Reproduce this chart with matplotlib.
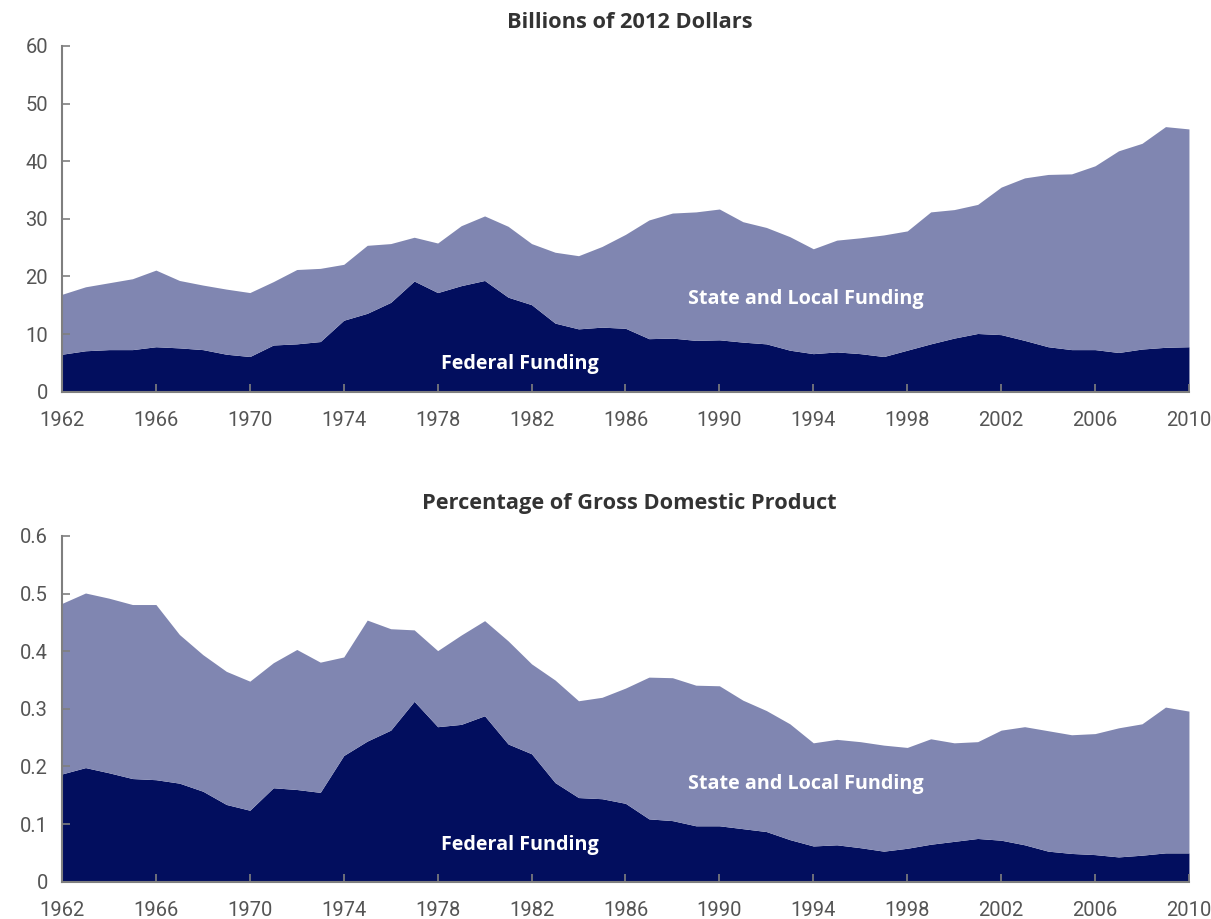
import matplotlib
matplotlib.use("Agg")
import matplotlib.pyplot as plt
import numpy as np

years = list(range(1962, 2011))

# Billions of 2012 dollars
total_billions = [16.9, 18.2, 18.9, 19.6, 21.1, 19.3, 18.5, 17.8, 17.2, 19.1,
                  21.2, 21.4, 22.1, 25.4, 25.7, 26.8, 25.8, 28.8, 30.5, 28.7,
                  25.7, 24.2, 23.6, 25.2, 27.3, 29.8, 31.0, 31.2, 31.7, 29.5,
                  28.5, 26.9, 24.8, 26.3, 26.7, 27.2, 27.9, 31.2, 31.6, 32.5,
                  35.5, 37.1, 37.7, 37.8, 39.2, 41.8, 43.1, 46.0, 45.6]
federal_billions = [6.5, 7.1, 7.3, 7.3, 7.8, 7.6, 7.3, 6.5, 6.1, 8.1,
                    8.3, 8.7, 12.4, 13.6, 15.5, 19.2, 17.2, 18.4, 19.3, 16.4,
                    15.1, 11.9, 10.9, 11.2, 11.0, 9.2, 9.3, 8.9, 9.0, 8.6,
                    8.3, 7.2, 6.6, 6.9, 6.6, 6.1, 7.2, 8.3, 9.3, 10.1,
                    9.9, 8.9, 7.8, 7.3, 7.3, 6.8, 7.4, 7.7, 7.8]

# Percentage of GDP
total_gdp = [0.483, 0.501, 0.492, 0.481, 0.481, 0.429, 0.394, 0.365, 0.348, 0.380,
             0.403, 0.381, 0.390, 0.454, 0.439, 0.437, 0.401, 0.428, 0.453, 0.418,
             0.378, 0.350, 0.314, 0.320, 0.336, 0.355, 0.354, 0.341, 0.340, 0.315,
             0.297, 0.274, 0.241, 0.247, 0.243, 0.237, 0.233, 0.248, 0.241, 0.243,
             0.263, 0.269, 0.262, 0.255, 0.257, 0.267, 0.274, 0.303, 0.296]
federal_gdp = [0.187, 0.198, 0.189, 0.179, 0.177, 0.171, 0.157, 0.134, 0.124, 0.163,
               0.160, 0.155, 0.219, 0.244, 0.263, 0.313, 0.269, 0.273, 0.288, 0.239,
               0.222, 0.172, 0.146, 0.144, 0.136, 0.109, 0.106, 0.097, 0.097, 0.092,
               0.087, 0.073, 0.062, 0.064, 0.059, 0.053, 0.058, 0.065, 0.070, 0.075,
               0.072, 0.064, 0.053, 0.049, 0.047, 0.043, 0.046, 0.050, 0.050]

xticks = list(range(1962, 2011, 4))
yticks_top = [0, 10, 20, 30, 40, 50, 60]
yticks_bot = [0, 0.1, 0.2, 0.3, 0.4, 0.5, 0.6]
ylabels_bot = ["0", "0.1", "0.2", "0.3", "0.4", "0.5", "0.6"]

DARK = "#020e5e"
LIGHT = "#8086b1"
GRAY = "#7f7f7f"
TXT = "#555555"
plt.rcParams['font.family'] = ["Roboto", "DejaVu Sans"]

fig = plt.figure(figsize=(12.11, 9.19), dpi=100)
ax1 = fig.add_axes([0.0512, 0.5738, 0.9306, 0.3762])
ax2 = fig.add_axes([0.0512, 0.0406, 0.9306, 0.3762])


def style(ax, yt, ylab, ymax):
    ax.set_xlim(1962, 2010)
    ax.set_ylim(0, ymax)
    ax.set_xticks(xticks)
    ax.set_yticks(yt)
    ax.set_yticklabels(ylab)
    for s in ["top", "right"]:
        ax.spines[s].set_visible(False)
    for s in ["left", "bottom"]:
        ax.spines[s].set_color(GRAY)
        ax.spines[s].set_linewidth(1.5)
    ax.tick_params(direction="in", length=6, width=1.2, color=GRAY,
                   labelsize=14.5, labelcolor=TXT)
    ax.tick_params(axis="x", pad=14)
    ax.tick_params(axis="y", pad=10)


def label(ax, x, y, s):
    ax.text(x, y, s, color="white", fontsize=14.2, fontweight="bold",
            family=["Open Sans", "DejaVu Sans"], ha="center", va="center")


ax1.fill_between(years, 0, federal_billions, color=DARK, lw=0)
ax1.fill_between(years, federal_billions, total_billions, color=LIGHT, lw=0)
style(ax1, yticks_top, [str(v) for v in yticks_top], 60)
label(ax1, 1993.7, 16.15, "State and Local Funding")
label(ax1, 1981.5, 4.8, "Federal Funding")
fig.text(0.52, 0.976, "Billions of 2012 Dollars", color="#333333",
         fontsize=15.7, fontweight="bold", family=["Open Sans", "DejaVu Sans"],
         ha="center", va="center")

ax2.fill_between(years, 0, federal_gdp, color=DARK, lw=0)
ax2.fill_between(years, federal_gdp, total_gdp, color=LIGHT, lw=0)
style(ax2, yticks_bot, ylabels_bot, 0.6)
label(ax2, 1993.7, 0.170, "State and Local Funding")
label(ax2, 1981.5, 0.064, "Federal Funding")
fig.text(0.52, 0.4525, "Percentage of Gross Domestic Product", color="#333333",
         fontsize=15.7, fontweight="bold", family=["Open Sans", "DejaVu Sans"],
         ha="center", va="center")

fig.savefig("out.png", dpi=100)
